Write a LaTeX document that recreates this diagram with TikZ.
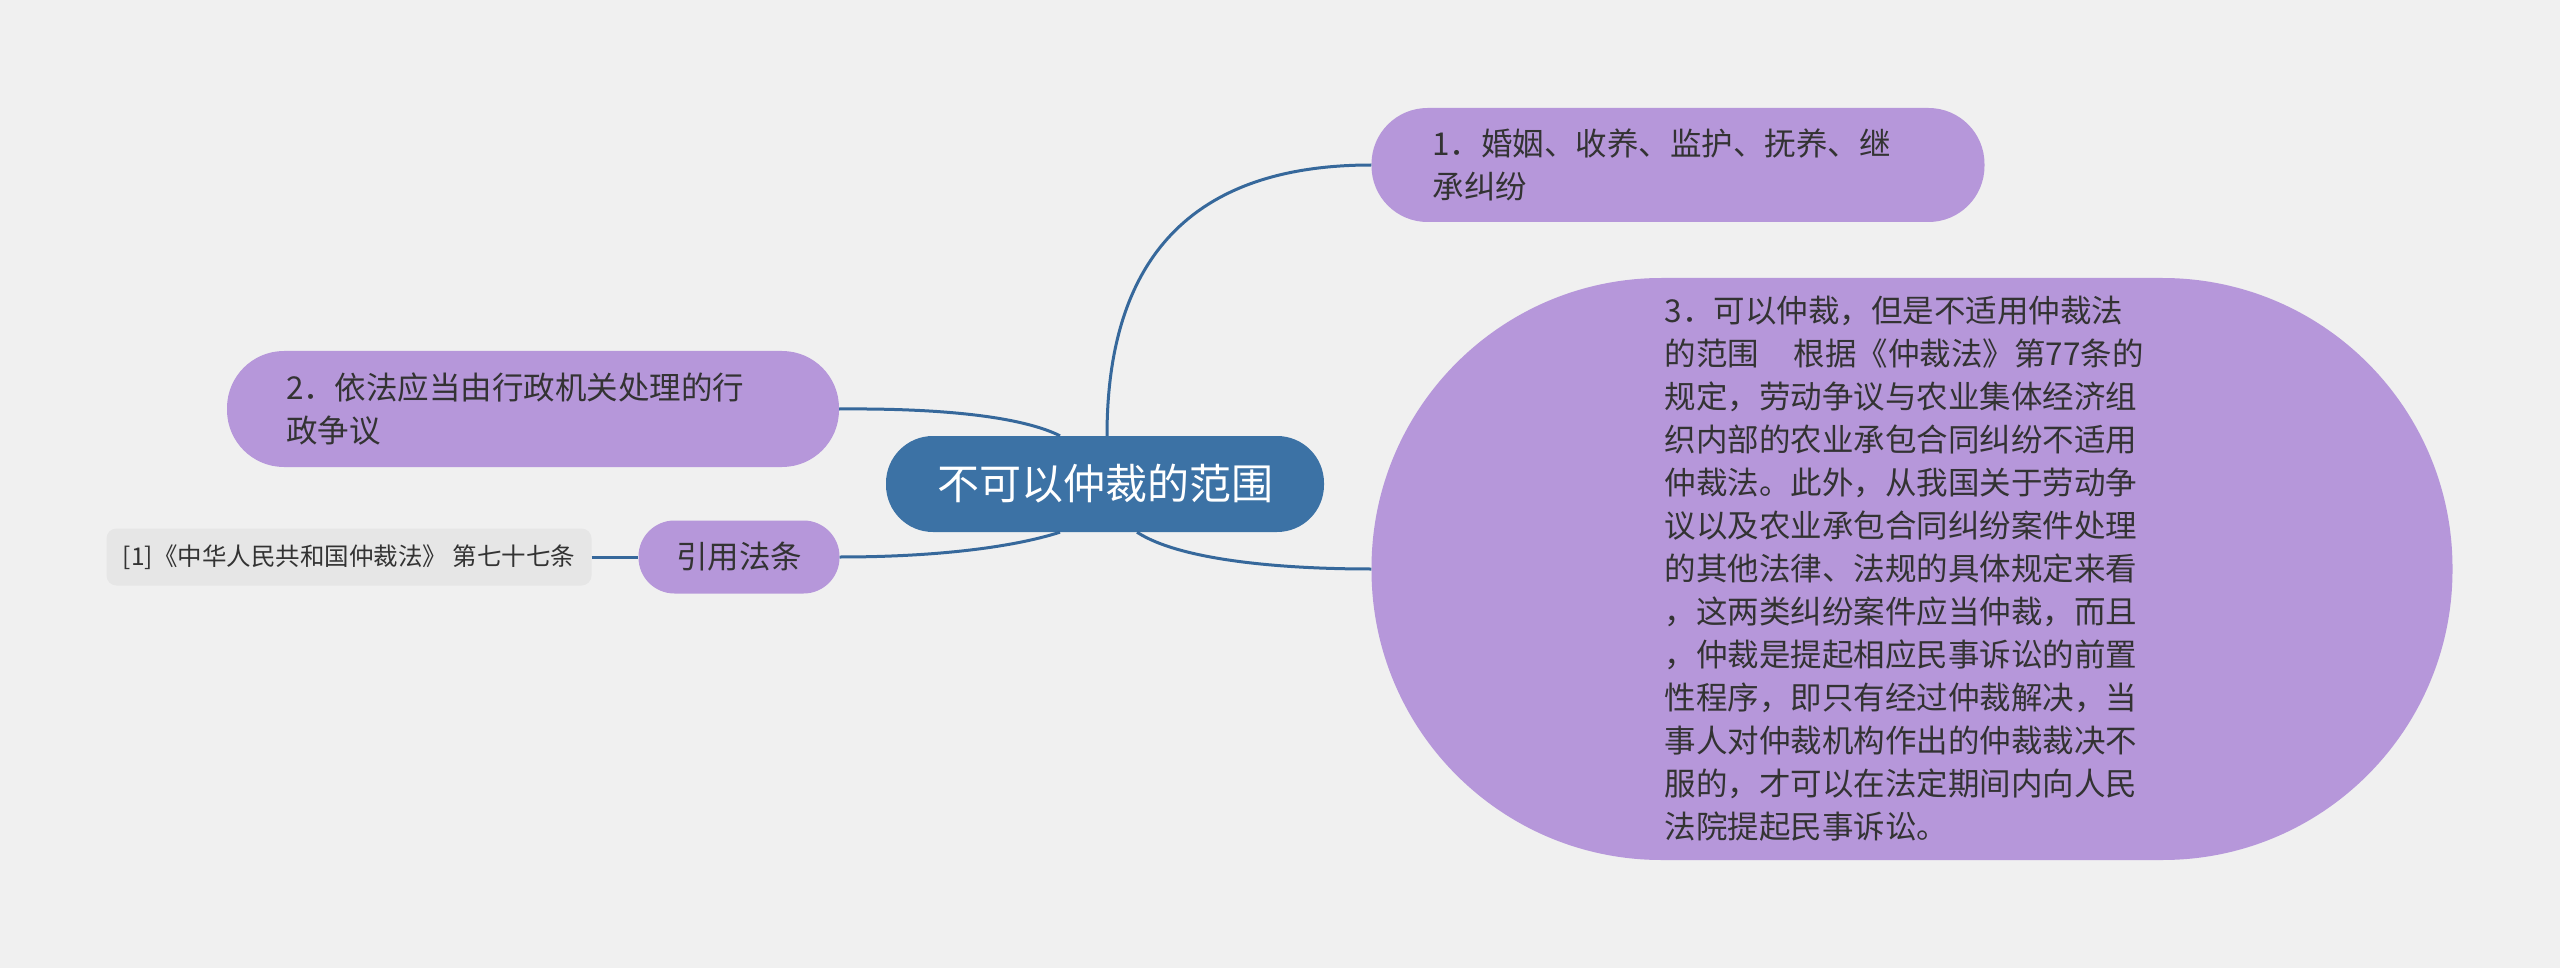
\documentclass[tikz,border=0pt]{standalone}
\usepackage{fontspec}
\setmainfont{Noto Sans CJK SC}
\definecolor{bg}{HTML}{F0F0F0}
\definecolor{purp}{HTML}{B697DA}
\definecolor{blu}{HTML}{3C72A5}
\definecolor{lnk}{HTML}{36689B}
\definecolor{txt}{HTML}{333333}
\definecolor{refbg}{HTML}{E6E6E6}
\begin{document}
\begin{tikzpicture}[x=1pt,y=-1pt,
  topic/.style={fill=purp, text=txt, align=left, inner sep=0pt, font=\fontsize{31.5}{43}\selectfont},
  link/.style={draw=lnk, line width=3pt}]
\fill[bg] (0,0) rectangle (2560,968);
\useasboundingbox (0,0) rectangle (2560,968);

\node[fill=blu, text=white, rounded corners=47pt, minimum width=438pt, minimum height=96pt, inner sep=0pt, font=\fontsize{42}{50}\selectfont] (c) at (1105,484) {不可以仲裁的范围};

\node[topic, rounded corners=56pt, minimum width=613pt, minimum height=114pt, text width=491pt] (n1) at (1678,165) {1．婚姻、收养、监护、抚养、继\\承纠纷};

\node[topic, rounded corners=57pt, minimum width=612pt, minimum height=116pt, text width=494pt] (n2) at (533,409) {2．依法应当由行政机关处理的行\\政争议};

\node[topic, rounded corners=290pt, minimum width=1081pt, minimum height=582pt, text width=495pt] (n3) at (1912,569) {3．可以仲裁，但是不适用仲裁法\\的范围\hspace{1.1em}根据《仲裁法》第77条的\\规定，劳动争议与农业集体经济组\\织内部的农业承包合同纠纷不适用\\仲裁法。此外，从我国关于劳动争\\议以及农业承包合同纠纷案件处理\\的其他法律、法规的具体规定来看\\，这两类纠纷案件应当仲裁，而且\\，仲裁是提起相应民事诉讼的前置\\性程序，即只有经过仲裁解决，当\\事人对仲裁机构作出的仲裁裁决不\\服的，才可以在法定期间内向人民\\法院提起民事诉讼。};

\node[topic, rounded corners=36pt, minimum width=201pt, minimum height=73pt] (n4) at (739,557) {引用法条};

\node[fill=refbg, rounded corners=10pt, minimum width=485pt, minimum height=57pt, inner sep=0pt, text=txt, font=\fontsize{24.5}{30}\selectfont] (r) at (349,557) {[1]《中华人民共和国仲裁法》 第七十七条};

\coordinate (c1) at ([xshift=2pt]c.north);
\coordinate (c2) at ([xshift=-45pt]c.north);
\coordinate (c3) at ([xshift=32pt]c.south);
\coordinate (c4) at ([xshift=-45pt]c.south);

\draw[link] (c1) .. controls +(0,-186) and +(-171,0) .. (n1.west);
\draw[link] (c2) .. controls +(-32,-16) and +(121,-1) .. (n2.east);
\draw[link] (c3) .. controls +(43,28) and +(-91,0) .. (n3.west);
\draw[link] (c4) .. controls +(-50,16) and +(91,0) .. (n4.east);
\draw[link] (r.east) -- (n4.west);
\end{tikzpicture}
\end{document}
